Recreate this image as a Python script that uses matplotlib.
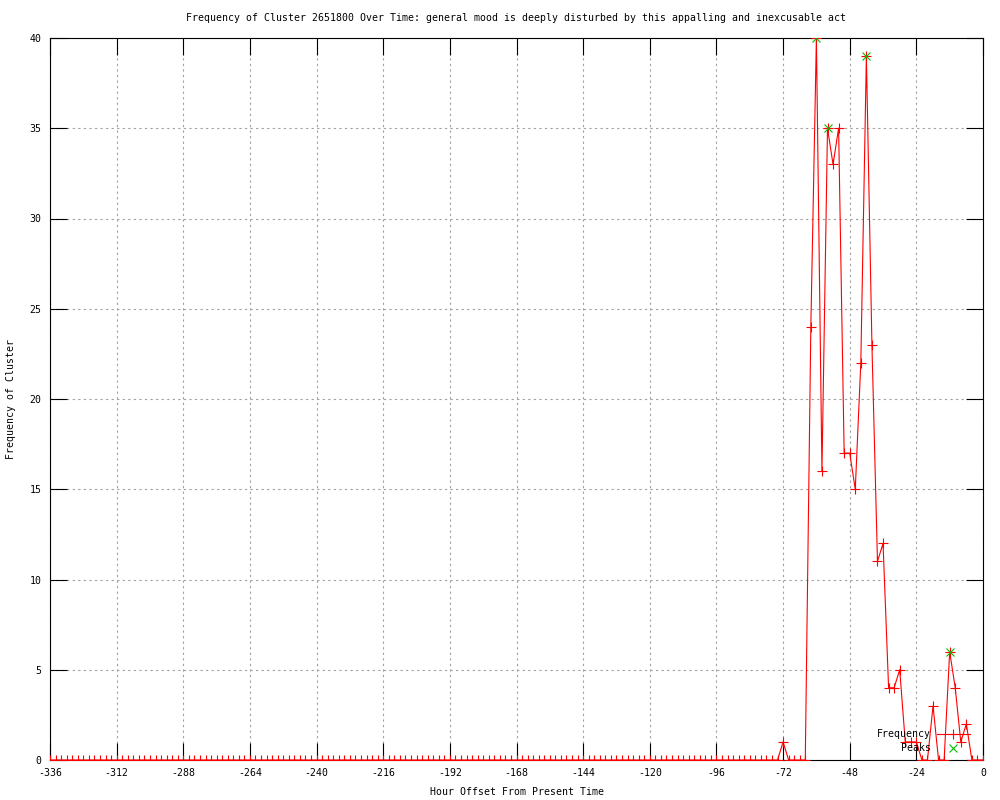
import matplotlib
matplotlib.use("Agg")
import matplotlib.pyplot as plt

# hourly offsets, one sample every 2 hours
hours = list(range(-336, 1, 2))

# cluster frequency per sample (-336 .. 0)
frequency = [
    0, 0, 0, 0, 0, 0, 0, 0, 0, 0, 0, 0, 0, 0, 0, 0, 0, 0, 0, 0, 0, 0,
    0, 0, 0, 0, 0, 0, 0, 0, 0, 0, 0, 0, 0, 0, 0, 0, 0, 0, 0, 0, 0, 0,
    0, 0, 0, 0, 0, 0, 0, 0, 0, 0, 0, 0, 0, 0, 0, 0, 0, 0, 0, 0, 0, 0,
    0, 0, 0, 0, 0, 0, 0, 0, 0, 0, 0, 0, 0, 0, 0, 0, 0, 0, 0, 0, 0, 0,
    0, 0, 0, 0, 0, 0, 0, 0, 0, 0, 0, 0, 0, 0, 0, 0, 0, 0, 0, 0, 0, 0,
    0, 0, 0, 0, 0, 0, 0, 0, 0, 0, 0, 0, 0, 0, 0, 0, 0, 0, 0, 0, 0, 0,
    # -72 .. 0
    1, 0, 0, 0, 0, 24, 40, 16, 35, 33, 35, 17, 17, 15, 22, 39, 23, 11, 12,
    4, 4, 5, 1, 1, 1, 0, 0, 3, 0, 0, 6, 4, 1, 2, 0, 0, 0,
]

peak_hours = [-60, -56, -42, -12]
peak_values = [40, 35, 39, 6]

title = ("Frequency of Cluster 2651800 Over Time: general mood is deeply "
         "disturbed by this appalling and inexcusable act")

plt.rcParams["font.family"] = "DejaVu Sans Mono"
plt.rcParams["font.size"] = 7.1
plt.rcParams["axes.unicode_minus"] = False

fig = plt.figure(figsize=(10, 8), dpi=100)
ax = fig.add_axes([0.05, 0.05, 0.933, 0.9025])

ax.plot(hours, frequency, color="#ff0000", lw=0.8, marker="+",
        markersize=7, markeredgewidth=0.8, label="Frequency", zorder=3)
ax.plot(peak_hours, peak_values, linestyle="none", color="#00c000",
        marker="x", markersize=5.5, markeredgewidth=0.8, label="Peaks",
        zorder=4)

ax.set_xlim(-336, 0)
ax.set_ylim(0, 40)
ax.set_xticks(range(-336, 1, 24))
ax.set_yticks(range(0, 41, 5))
ax.tick_params(direction="in", length=12, width=0.8, top=True, right=True,
               labelsize=7.1, pad=6)
ax.tick_params(axis="y", pad=6)
ax.grid(True, color="#a0a0a0", linestyle=(0, (2, 3)), linewidth=0.8)
for s in ax.spines.values():
    s.set_linewidth(0.8)

ax.set_title(title, fontsize=7.1, pad=12)
ax.set_xlabel("Hour Offset From Present Time", fontsize=7.1, labelpad=6)
ax.set_ylabel("Frequency of Cluster", fontsize=7.1, labelpad=10)

ax.legend(loc="lower right", bbox_to_anchor=(0.993, 0.0), frameon=False,
          markerfirst=False, numpoints=1, handlelength=3.3,
          labelspacing=0.4, borderpad=0.2, handletextpad=0.6, fontsize=7.1)

fig.savefig("out.png", dpi=100)
